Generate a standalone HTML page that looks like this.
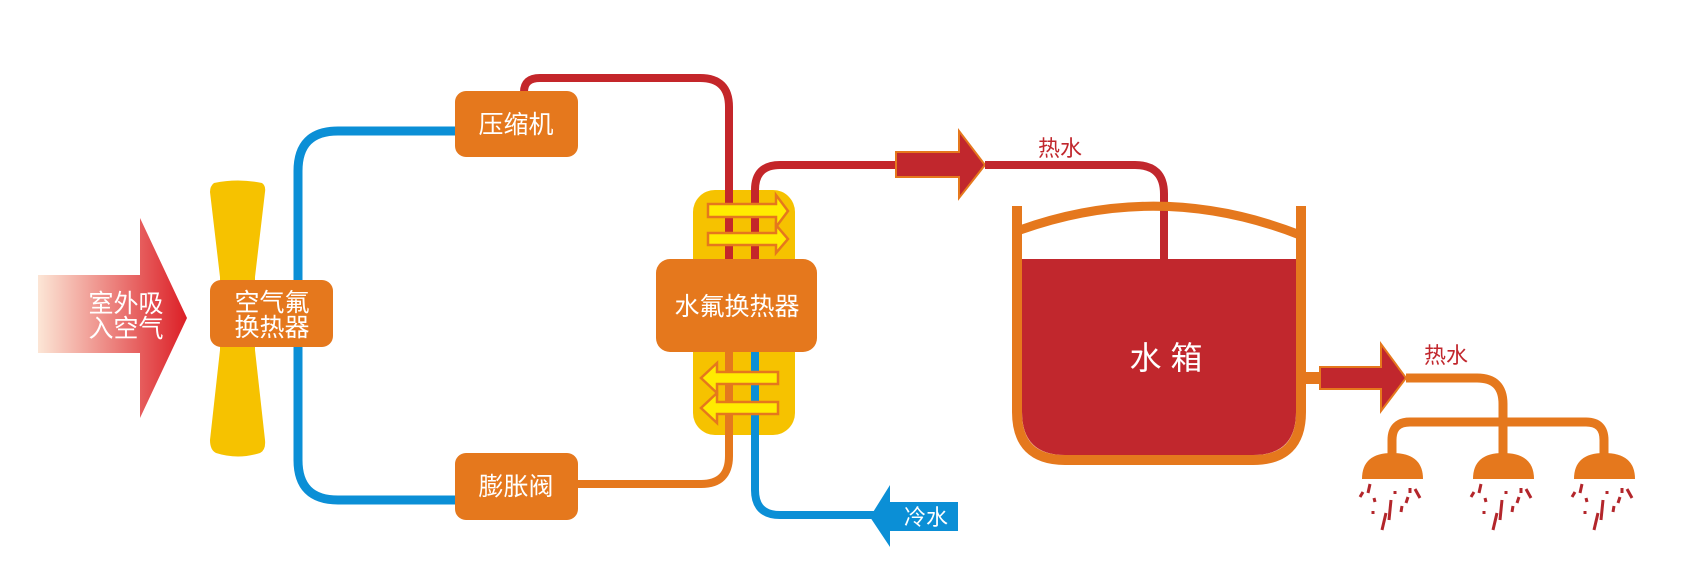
<!DOCTYPE html>
<html><head><meta charset="utf-8"><style>
html,body{margin:0;padding:0;background:#fff;}
svg{display:block;}
text{font-family:"Liberation Sans","Noto Sans CJK SC",sans-serif;}
</style></head><body>
<svg width="1687" height="581" viewBox="0 0 1687 581" xmlns="http://www.w3.org/2000/svg">
<defs>
<linearGradient id="g1" x1="0" x2="1" y1="0" y2="0">
<stop offset="0" stop-color="#fce6d6"/><stop offset="1" stop-color="#dc1f26"/>
</linearGradient>
<g id="drops" stroke="#b3262b" stroke-width="3">
<line x1="-32" y1="57" x2="-29" y2="52"/><line x1="-24" y1="53" x2="-22" y2="44"/>
<line x1="-18" y1="58" x2="-17" y2="62"/><line x1="-19" y1="71" x2="-19" y2="74"/>
<line x1="-10" y1="90" x2="-6" y2="73"/><line x1="-3" y1="80" x2="-1" y2="60"/>
<line x1="3" y1="51" x2="3" y2="54"/><line x1="9" y1="72" x2="10" y2="66"/>
<line x1="14" y1="63" x2="16" y2="57"/><line x1="18" y1="53" x2="18" y2="48"/>
<line x1="23" y1="49" x2="28" y2="58"/>
</g>
</defs>

<!-- inlet air arrow -->
<polygon points="38,275 140,275 140,218 187,318 140,418 140,353 38,353" fill="url(#g1)"/>
<text x="126" y="312" font-size="25" fill="#fff" text-anchor="middle">室外吸</text>
<text x="126" y="337" font-size="25" fill="#fff" text-anchor="middle">入空气</text>

<!-- fan -->
<path d="M214,183 Q238,178 262,183 Q266,186 265,192 L255,277 L255,350 L265,440 Q266,450 260,453 Q238,460 216,453 Q210,450 210,440 L220,350 L220,277 L210,192 Q210,186 214,183 Z" fill="#f6c200"/>

<!-- blue refrigerant loop -->
<path d="M455,131 L338,131 Q298,131 298,171 L298,460 Q298,500 338,500 L455,500" fill="none" stroke="#0b8fd6" stroke-width="9"/>

<!-- red compressor -> exchanger -->
<path d="M524,92 Q524,78 540,78 L700,78 Q729,78 729,107 L729,262" fill="none" stroke="#c4262a" stroke-width="8"/>
<!-- orange exchanger -> expansion -->
<path d="M729,350 L729,456 Q729,484 701,484 L578,484" fill="none" stroke="#e5781d" stroke-width="8"/>

<!-- exchanger yellow background -->
<rect x="693" y="190" width="102" height="245" rx="22" fill="#f6c200"/>

<!-- pipes inside exchanger -->
<line x1="729" y1="190" x2="729" y2="262" stroke="#c4262a" stroke-width="8"/>
<line x1="729" y1="350" x2="729" y2="440" stroke="#e5781d" stroke-width="8"/>
<path d="M755,262 L755,190 Q755,165 780,165 L900,165" fill="none" stroke="#c4262a" stroke-width="8"/>
<path d="M755,350 L755,490 Q755,515 780,515 L875,515" fill="none" stroke="#0b8fd6" stroke-width="8"/>

<!-- yellow heat arrows -->
<g fill="#ffec00" stroke="#e5781d" stroke-width="2.5">
<polygon points="708,204 776,204 776,195 788,211 776,227 776,217 708,217"/>
<polygon points="708,233 776,233 776,225 788,239 776,253 776,245 708,245"/>
<polygon points="778,372 717,372 717,363 701,378 717,393 717,384 778,384"/>
<polygon points="778,402 717,402 717,393 701,408 717,423 717,414 778,414"/>
</g>

<!-- boxes -->
<g fill="#e5781d">
<rect x="210" y="280" width="123" height="67" rx="11"/>
<rect x="455" y="91" width="123" height="66" rx="11"/>
<rect x="455" y="453" width="123" height="67" rx="11"/>
<rect x="656" y="259" width="161" height="93" rx="14"/>
</g>
<g fill="#fff" text-anchor="middle">
<text x="272" y="311" font-size="25">空气氟</text>
<text x="272" y="336" font-size="25">换热器</text>
<text x="516" y="133" font-size="25">压缩机</text>
<text x="516" y="495" font-size="25">膨胀阀</text>
<text x="737" y="315" font-size="25">水氟换热器</text>
</g>

<!-- hot water arrow 1 -->
<polygon points="896,152 959,152 959,131 985,165 959,198 959,177 896,177" fill="#c1272d" stroke="#e5781d" stroke-width="2"/>
<path d="M985,165 L1135,165 Q1164,165 1164,194 L1164,262" fill="none" stroke="#c1272d" stroke-width="8"/>
<text x="1060" y="156" font-size="22" fill="#c1272d" text-anchor="middle">热水</text>

<!-- tank -->
<path d="M1022,259 L1296,259 L1296,412 Q1296,455 1253,455 L1065,455 Q1022,455 1022,412 Z" fill="#c1272d"/>
<line x1="1164" y1="215" x2="1164" y2="260" stroke="#c1272d" stroke-width="8"/>
<path d="M1017,206 L1017,412 Q1017,460 1065,460 L1253,460 Q1301,460 1301,412 L1301,206" fill="none" stroke="#e5781d" stroke-width="10"/>
<path d="M1020,230 Q1160,180 1300,235" fill="none" stroke="#e5781d" stroke-width="9"/>
<text x="1166" y="369" font-size="32" fill="#fff" text-anchor="middle">水 箱</text>

<!-- outlet -->
<rect x="1300" y="372" width="22" height="12" fill="#e5781d"/>
<polygon points="1320,367 1381,367 1381,344 1406,378 1381,411 1381,389 1320,389" fill="#c1272d" stroke="#e5781d" stroke-width="2"/>
<text x="1446" y="363" font-size="22" fill="#c1272d" text-anchor="middle">热水</text>
<path d="M1406,378 L1477,378 Q1503,378 1503,404 L1503,456" fill="none" stroke="#e5781d" stroke-width="9"/>
<path d="M1392,456 L1392,440 Q1392,422 1410,422 L1586,422 Q1604,422 1604,440 L1604,456" fill="none" stroke="#e5781d" stroke-width="9"/>

<!-- shower heads -->
<g fill="#e5781d">
<path d="M1362,479 Q1362,453 1392,453 Q1423,453 1423,479 Z"/>
<path d="M1473,479 Q1473,453 1503,453 Q1534,453 1534,479 Z"/>
<path d="M1574,479 Q1574,453 1604,453 Q1635,453 1635,479 Z"/>
</g>
<use href="#drops" x="1392" y="440"/>
<use href="#drops" x="1503" y="440"/>
<use href="#drops" x="1604" y="440"/>

<!-- cold water arrow -->
<polygon points="870,517 890,485 890,502 958,502 958,531 890,531 890,547" fill="#0b8fd6"/>
<text x="926" y="525" font-size="22" fill="#fff" text-anchor="middle">冷水</text>
</svg>
</body></html>
